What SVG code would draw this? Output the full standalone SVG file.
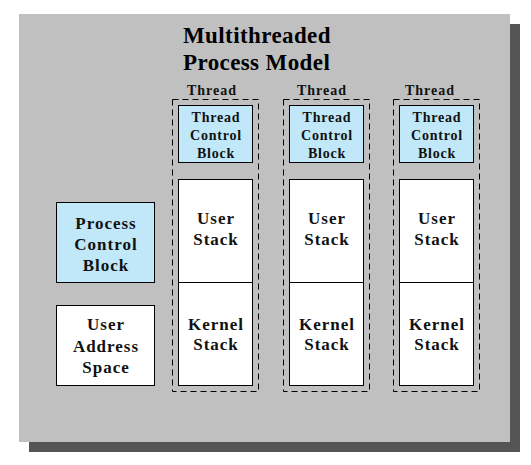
<svg xmlns="http://www.w3.org/2000/svg" width="531" height="465" viewBox="0 0 531 465">
<style>
text{font-family:"Liberation Serif","Times New Roman",serif;font-weight:bold;fill:#111;text-anchor:middle}
.title{font-size:23px;text-anchor:start;letter-spacing:0.4px;fill:#000}
.lbl{font-size:14px;letter-spacing:1px}
.tcb{font-size:14px;letter-spacing:0.8px}
.big{font-size:17px;letter-spacing:1px}
.blue{fill:#c0e8f8;stroke:#000;stroke-width:1}
.white{fill:#fff;stroke:#000;stroke-width:1}
.dash{fill:none;stroke:#000;stroke-width:1;stroke-dasharray:6,4}
</style>
<rect x="29" y="24" width="491" height="428" fill="#555555"/>
<rect x="19" y="14" width="491" height="428" fill="#c0c0c0"/>
<g id="title">
<text class="title" x="183" y="43">Multithreaded</text>
<text class="title" x="183" y="70">Process Model</text>
</g>
<g id="pcb">
<rect class="blue" x="56.5" y="202.5" width="98" height="80"/>
<text class="big" x="106" y="229">Process</text>
<text class="big" x="106" y="250">Control</text>
<text class="big" x="106" y="271">Block</text>
</g>
<g id="uas">
<rect class="white" x="56.5" y="305.5" width="98" height="80"/>
<text class="big" x="106" y="330">User</text>
<text class="big" x="106" y="352">Address</text>
<text class="big" x="106" y="373">Space</text>
</g>
<g id="thread1">
<text class="lbl" x="212" y="95">Thread</text>
<rect class="dash" x="172.5" y="99.5" width="86" height="292"/>
<rect class="blue" x="178.5" y="105.5" width="74" height="57"/>
<text class="tcb" x="216" y="122">Thread</text>
<text class="tcb" x="216" y="140">Control</text>
<text class="tcb" x="216" y="158">Block</text>
<rect class="white" x="178.5" y="179.5" width="74" height="103"/>
<text class="big" x="216" y="224">User</text>
<text class="big" x="216" y="245">Stack</text>
<rect class="white" x="178.5" y="282.5" width="74" height="103"/>
<text class="big" x="216" y="330">Kernel</text>
<text class="big" x="216" y="350">Stack</text>
</g>
<g id="thread2">
<text class="lbl" x="322" y="95">Thread</text>
<rect class="dash" x="283.5" y="99.5" width="86" height="292"/>
<rect class="blue" x="289.5" y="105.5" width="74" height="57"/>
<text class="tcb" x="327" y="122">Thread</text>
<text class="tcb" x="327" y="140">Control</text>
<text class="tcb" x="327" y="158">Block</text>
<rect class="white" x="289.5" y="179.5" width="74" height="103"/>
<text class="big" x="327" y="224">User</text>
<text class="big" x="327" y="245">Stack</text>
<rect class="white" x="289.5" y="282.5" width="74" height="103"/>
<text class="big" x="327" y="330">Kernel</text>
<text class="big" x="327" y="350">Stack</text>
</g>
<g id="thread3">
<text class="lbl" x="430" y="95">Thread</text>
<rect class="dash" x="393.5" y="99.5" width="86" height="292"/>
<rect class="blue" x="399.5" y="105.5" width="74" height="57"/>
<text class="tcb" x="437" y="122">Thread</text>
<text class="tcb" x="437" y="140">Control</text>
<text class="tcb" x="437" y="158">Block</text>
<rect class="white" x="399.5" y="179.5" width="74" height="103"/>
<text class="big" x="437" y="224">User</text>
<text class="big" x="437" y="245">Stack</text>
<rect class="white" x="399.5" y="282.5" width="74" height="103"/>
<text class="big" x="437" y="330">Kernel</text>
<text class="big" x="437" y="350">Stack</text>
</g>
<g id="connectors"/>
</svg>
